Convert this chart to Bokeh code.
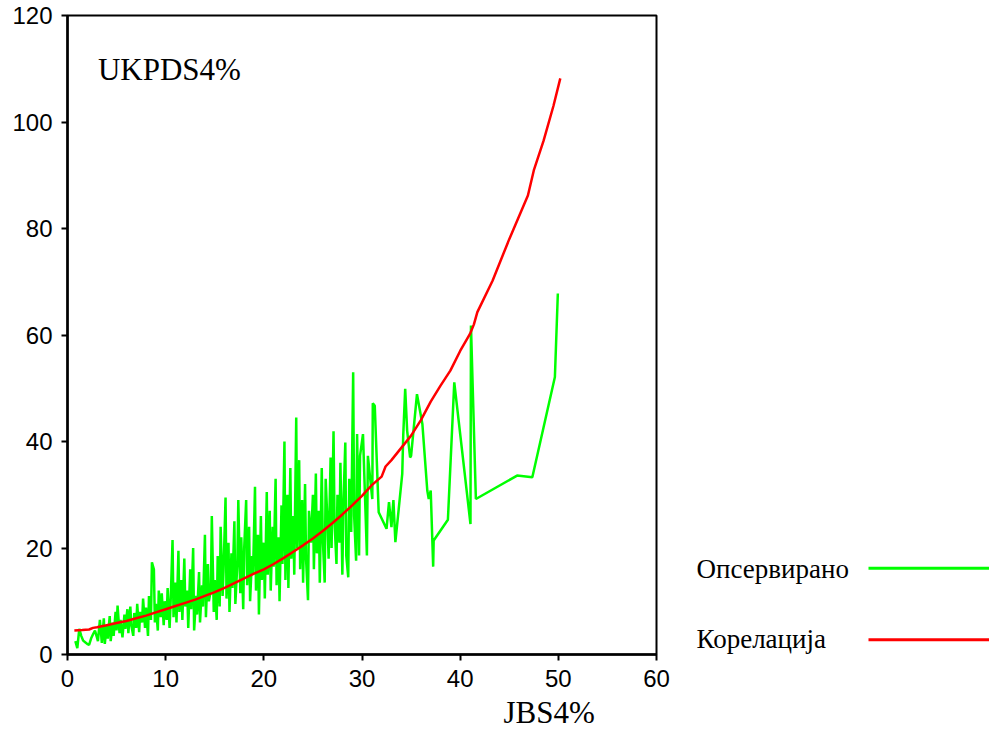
from bokeh.plotting import figure
from bokeh.models import Range1d, Label, FixedTicker, Title
from bokeh.layouts import row
from bokeh.embed import file_html
from bokeh.resources import INLINE

# ---------------- data ----------------
obs_x = [
    0.8, 1.0, 1.2, 1.4, 1.6, 1.8, 2.0, 2.2, 2.4, 2.6, 2.8, 3.0, 3.1, 3.3, 3.5,
    3.6, 3.7, 3.8, 4.0, 4.1, 4.3, 4.4, 4.6, 4.7, 4.9, 5.0, 5.1, 5.3, 5.4, 5.6, 5.8, 5.9,
    6.1, 6.2, 6.4, 6.5, 6.7, 6.8, 7.0, 7.1, 7.3, 7.4, 7.6, 7.7, 7.9, 8.0, 8.2, 8.3, 8.5,
    8.6, 8.8, 8.9, 9.0, 9.2, 9.3, 9.5, 9.6, 9.8, 9.9,
    10.1, 10.2, 10.4, 10.5, 10.7, 10.8, 11.0, 11.1, 11.3, 11.4, 11.6, 11.7, 11.9, 12.0,
    12.2, 12.3, 12.5, 12.6, 12.8, 12.9, 13.1, 13.2, 13.4, 13.5, 13.7, 13.8, 14.0, 14.1,
    14.3, 14.4, 14.6, 14.7, 14.9,
    15.0, 15.2, 15.3, 15.5, 15.6, 15.8, 15.9, 16.1, 16.2, 16.4, 16.5, 16.7, 16.8, 17.0,
    17.1, 17.3, 17.4, 17.6, 17.7, 17.9, 18.0, 18.2, 18.3, 18.5, 18.6, 18.8, 18.9, 19.1,
    19.2, 19.4, 19.5, 19.7, 19.8,
    20.0, 20.1, 20.3, 20.4, 20.6, 20.7, 20.9, 21.0, 21.2, 21.3, 21.5, 21.6, 21.8, 21.9,
    22.1, 22.2, 22.4, 22.5, 22.7, 22.8, 23.0, 23.1, 23.3, 23.4, 23.6, 23.7, 23.9, 24.0,
    24.2, 24.3, 24.5, 24.6, 24.8,
    25.0, 25.1, 25.3, 25.4, 25.6, 25.7, 25.9, 26.0, 26.2, 26.3, 26.5, 26.6, 26.8, 26.9,
    27.1, 27.2, 27.4, 27.5, 27.7, 27.8, 28.0, 28.1, 28.3, 28.4, 28.6, 28.7, 28.9, 29.1,
    29.2, 29.4, 29.5, 29.7, 29.8,
    30.1, 30.5, 30.6, 31.05, 31.1, 31.3, 31.7, 32.5, 32.75, 33.0, 33.2, 33.4, 34.1, 34.2,
    34.4, 34.6, 34.9, 35.0, 35.6, 36.15, 36.65, 36.8, 37.0, 37.25, 37.3, 38.75, 39.4,
    41.05, 41.1, 41.6, 45.8, 47.35, 49.65, 49.95,
]
obs_y = [
    2.5, 1.2, 4.8, 3.5, 2.6, 2.3, 2.0, 1.8, 3.0, 3.8, 4.5, 3.2, 2.5, 6.5, 2.2,
    4.5, 6.8, 2.0, 5.5, 3.0, 7.2, 2.5, 6.0, 3.5, 8.0, 4.5, 9.2, 4.0, 6.5, 3.2, 7.5, 4.8,
    8.5, 4.0, 9.0, 5.5, 3.5, 7.8, 5.0, 9.5, 4.2, 8.0, 6.0, 10.5, 5.0, 8.8, 3.5, 11.0, 6.5,
    17.3, 16.0, 6.0, 9.5, 4.5, 12.0, 7.0, 11.5, 5.5, 10.0,
    6.5, 12.5, 5.0, 9.5, 21.5, 7.0, 13.5, 6.0, 19.5, 8.0, 14.0, 6.5, 18.0, 9.0,
    12.0, 5.0, 16.0, 8.5, 20.0, 4.5, 11.0, 7.5, 15.5, 6.0, 13.0, 9.0, 22.5, 7.0,
    17.0, 10.0, 12.0, 26.0, 8.0,
    14.0, 6.5, 18.5, 9.0, 24.0, 11.0, 16.0, 29.5, 10.5, 21.0, 8.0, 19.0, 12.5, 25.0,
    9.5, 17.0, 29.0, 11.5, 22.0, 8.5, 20.0, 29.0, 13.0, 24.0, 10.0, 18.5, 15.0, 31.5,
    12.0, 22.5, 7.5, 26.0, 14.0,
    21.0, 10.5, 30.5, 15.0, 27.0, 12.0, 24.0, 16.5, 33.0, 13.0, 22.0, 10.0, 28.0, 17.0,
    40.0, 14.0, 30.0, 12.5, 35.0, 18.0, 26.0, 15.0, 44.5, 20.0, 36.5, 16.0, 29.0, 13.5,
    32.0, 18.0, 10.2, 27.0, 21.0,
    30.0, 16.0, 34.0, 19.0, 27.0, 13.5, 35.0, 22.0, 13.5, 33.0, 24.0, 18.0, 37.0, 20.0,
    41.9, 25.0, 17.0, 30.0, 21.0, 36.0, 15.0, 28.0, 39.8, 18.5, 14.5, 33.0, 23.0, 53.0,
    26.0, 17.6, 41.4, 18.6, 37.3,
    41.4, 18.6, 37.3, 29.2, 47.2, 46.7, 26.7, 23.6, 28.6, 23.9, 29.0, 21.1, 33.9, 41.1,
    49.9, 42.0, 37.0, 37.3, 48.9, 43.3, 30.8, 29.2, 30.8, 16.5, 21.4, 25.3, 51.1,
    24.5, 61.8, 29.2, 33.6, 33.3, 52.1, 67.8,
]

corr_x = [0.7, 1.5, 2.2, 2.6, 3.0, 4.0, 5.0, 6.0, 7.0, 8.0, 9.0, 10.0, 11.0, 12.0, 13.0,
          14.0, 15.0, 16.0, 17.0, 18.0, 19.0, 20.0, 21.0, 22.0, 23.0, 24.0, 25.0, 26.0,
          27.0, 28.0, 29.0, 30.0, 31.0, 32.0, 32.4, 33.0, 34.0, 35.0, 36.0, 37.0, 38.0,
          39.0, 40.0, 41.0, 41.4, 41.75, 43.3, 45.0, 46.9, 47.5, 48.5, 49.5, 50.2]
corr_y = [4.5, 4.6, 4.7, 5.0, 5.1, 5.5, 5.9, 6.3, 6.8, 7.3, 7.9, 8.5, 9.1, 9.7, 10.3,
          11.0, 11.7, 12.5, 13.4, 14.3, 15.2, 16.0, 17.0, 18.1, 19.3, 20.5, 21.8, 23.2,
          24.7, 26.3, 28.0, 29.8, 31.8, 33.4, 35.3, 36.5, 38.8, 41.1, 44.0, 47.5, 50.5,
          53.3, 57.0, 60.2, 62.0, 64.3, 70.2, 78.0, 86.2, 90.9, 96.5, 103.0, 108.2]

x_ticks = [0, 10, 20, 30, 40, 50, 60]
y_ticks = [0, 20, 40, 60, 80, 100, 120]
title_text = "UKPDS4%"
x_label_text = "JBS4%"
legend_labels = ["Опсервирано", "Корелација"]
series_colors = ["#00FF00", "#FF0000"]

# ---------------- main plot ----------------
p = figure(width=680, height=735, x_range=Range1d(0, 60), y_range=Range1d(0, 120),
           output_backend="svg", toolbar_location=None, title=None,
           min_border_left=67, min_border_right=24, min_border_top=15, min_border_bottom=81)
p.grid.visible = False
p.outline_line_color = "black"
p.outline_line_width = 2
p.background_fill_color = "white"
p.border_fill_color = "white"

for ax in (p.xaxis[0], p.yaxis[0]):
    ax.axis_line_width = 2.5
    ax.axis_line_color = "black"
    ax.major_tick_line_width = 2
    ax.major_tick_line_color = "black"
    ax.major_tick_out = 6
    ax.major_tick_in = 0
    ax.minor_tick_line_color = None
    ax.major_label_text_font = "Liberation Sans"
    ax.major_label_text_font_size = "24px"
    ax.major_label_text_color = "black"
p.xaxis.major_label_standoff = 9
p.yaxis.major_label_standoff = 9
p.xaxis.ticker = FixedTicker(ticks=x_ticks)
p.yaxis.ticker = FixedTicker(ticks=y_ticks)

p.line(obs_x, obs_y, line_color=series_colors[0], line_width=2.5)
p.line(corr_x, corr_y, line_color=series_colors[1], line_width=2.5)

p.add_layout(Label(x=3.1, y=109.8, text=title_text, text_font="Liberation Serif",
                   text_font_size="31px", text_color="black", text_baseline="alphabetic"))
p.add_layout(Title(text=x_label_text, align="left", offset=436, standoff=6,
                   text_font="Liberation Serif", text_font_size="31px",
                   text_font_style="normal", text_color="black"), "below")

# ---------------- legend panel ----------------
lg = figure(width=309, height=735, x_range=Range1d(680, 989), y_range=Range1d(654, 15),
            output_backend="svg", toolbar_location=None, title=None,
            min_border_left=0, min_border_right=0, min_border_top=15, min_border_bottom=81,
            x_axis_location=None, y_axis_location=None)
lg.grid.visible = False
lg.outline_line_color = None
lg.background_fill_color = "white"
lg.border_fill_color = "white"
lg.segment(x0=[868, 868], y0=[567.7, 639.3], x1=[989, 989], y1=[567.7, 639.3],
           line_color=series_colors, line_width=3)
lg.add_layout(Label(x=696, y=568.5, text=legend_labels[0], text_font="Liberation Serif",
                    text_font_size="27px", text_color="black", text_baseline="alphabetic"))
lg.add_layout(Label(x=696, y=638, text=legend_labels[1], text_font="Liberation Serif",
                    text_font_size="27px", text_color="black", text_baseline="alphabetic"))

layout = row(p, lg, spacing=0)
open("out.html", "w").write(file_html(layout, INLINE))
